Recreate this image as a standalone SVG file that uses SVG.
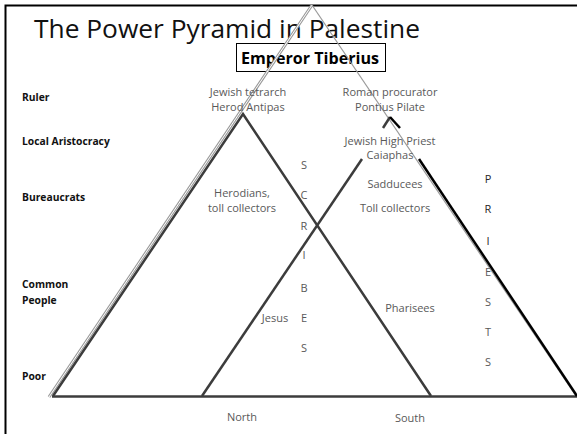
<svg xmlns="http://www.w3.org/2000/svg" width="577" height="434" viewBox="0 0 577 434">
<style>
  text { font-family: "Open Sans", "Liberation Sans", sans-serif; }
  .lab { font-size: 10.3px; font-weight: bold; fill: #111; }
  .g { font-size: 11px; fill: #595959; text-anchor: middle; }
  .k { font-size: 11px; fill: #262626; text-anchor: middle; }
  .dark { stroke: #3c3c3c; stroke-width: 2.5; fill: none; stroke-linecap: butt; }
  .blk { stroke: #000; stroke-width: 2.5; fill: none; }
  .gray { stroke: #9a9a9a; stroke-width: 1.2; fill: none; }
</style>
<rect x="0" y="0" width="577" height="434" fill="#fff"/>
<g id="frame">
  <polyline points="5.5,434 5.5,5.5 577,5.5" fill="none" stroke="#000" stroke-width="2"/>
</g>
<g id="title">
  <text x="34" y="38" font-size="25" fill="#111" textLength="386" lengthAdjust="spacingAndGlyphs">The Power Pyramid in Palestine</text>
</g>
<g id="emperor">
  <rect x="236.5" y="43.5" width="149" height="28" fill="none" stroke="#000" stroke-width="1"/>
  <text x="310" y="64" font-size="16.5" font-weight="bold" fill="#000" text-anchor="middle" textLength="138" lengthAdjust="spacingAndGlyphs">Emperor Tiberius</text>
</g>
<g id="connectors">
  <path d="M312,5 L49,397" stroke="#9a9a9a" stroke-width="3" fill="none"/>
  <path d="M312,5 L49,397" stroke="#fff" stroke-width="1" fill="none"/>
  <path class="gray" d="M312,5 L576,396"/>
  <path class="dark" d="M53,396 L243,114 L431,396"/>
  <path class="dark" d="M52,396.5 L577,396.5" stroke-width="3"/>
  <path class="dark" d="M383,128 L390,117"/>
  <path class="blk" d="M390,117 L400,128"/>
  <path class="dark" d="M362,159 L202,396"/>
  <path class="blk" d="M419,159 L577,396"/>
</g>
<g id="levels">
  <text class="lab" x="22" y="101">Ruler</text>
  <text class="lab" x="22" y="145">Local Aristocracy</text>
  <text class="lab" x="22" y="201">Bureaucrats</text>
  <text class="lab" x="22" y="288">Common</text>
  <text class="lab" x="22" y="304">People</text>
  <text class="lab" x="22" y="380">Poor</text>
</g>
<g id="north">
  <text class="g" x="248" y="96">Jewish tetrarch</text>
  <text class="g" x="248" y="111">Herod Antipas</text>
  <text class="g" x="242" y="197">Herodians,</text>
  <text class="g" x="242" y="212">toll collectors</text>
  <text class="g" x="275" y="322">Jesus</text>
  <text class="g" x="242" y="421">North</text>
</g>
<g id="south">
  <text class="g" x="390" y="96">Roman procurator</text>
  <text class="g" x="390" y="111">Pontius Pilate</text>
  <text class="g" x="390" y="144.5">Jewish High Priest</text>
  <text class="g" x="390" y="159">Caiaphas</text>
  <text class="g" x="395" y="188">Sadducees</text>
  <text class="g" x="395" y="212">Toll collectors</text>
  <text class="g" x="410" y="312">Pharisees</text>
  <text class="g" x="410" y="422">South</text>
</g>
<g id="scribes">
  <text class="g" x="304" y="169">S</text>
  <text class="g" x="304" y="199">C</text>
  <text class="g" x="304" y="230">R</text>
  <text class="g" x="304" y="259">I</text>
  <text class="g" x="304" y="292">B</text>
  <text class="g" x="304" y="322">E</text>
  <text class="g" x="304" y="352">S</text>
</g>
<g id="priests">
  <text class="k" x="488" y="183">P</text>
  <text class="k" x="488" y="213">R</text>
  <text class="k" x="488" y="245">I</text>
  <text class="g" x="488" y="276">E</text>
  <text class="g" x="488" y="306">S</text>
  <text class="g" x="488" y="336">T</text>
  <text class="g" x="488" y="366">S</text>
</g>
</svg>
